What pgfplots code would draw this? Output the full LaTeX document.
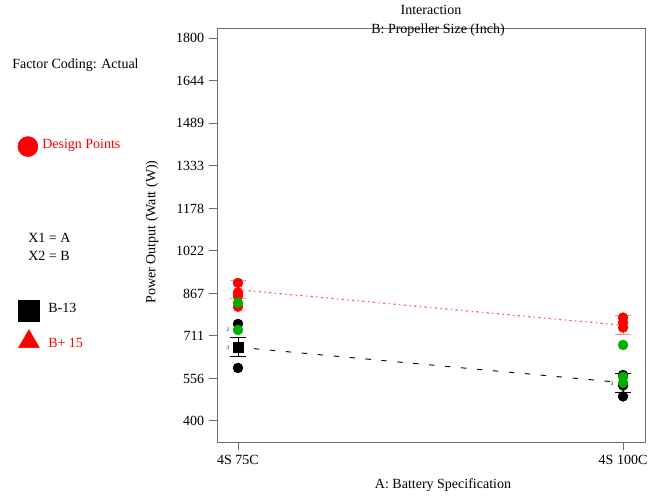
\documentclass[border=0pt]{standalone}
\usepackage{pgfplots}
\pgfplotsset{compat=1.18}
\usepackage{fontspec}
\setmainfont{Liberation Serif}
\definecolor{dgreen}{RGB}{0,175,0}
\definecolor{axgray}{RGB}{110,110,110}
\begin{document}
\fontsize{10.5}{12}\selectfont
\begin{tikzpicture}
\path[use as bounding box] (-162.75pt,-40.5pt) rectangle (336pt,331.5pt);
\begin{axis}[
  at={(0pt,0pt)}, anchor=south west,
  scale only axis, width=321pt, height=310.5pt,
  xmin=-0.0545, xmax=1.057, ymin=323, ymax=1838,
  xtick={0,1}, xticklabels={4S 75C,4S 100C},
  ytick={400,555.56,711.11,866.67,1022.22,1177.78,1333.33,1488.89,1644.44,1800},
  yticklabels={400,556,711,867,1022,1178,1333,1489,1644,1800},
  tick align=outside, major tick length=6pt,
  xtick pos=bottom, ytick pos=left,
  axis line style={axgray, line width=0.7pt},
  tick style={axgray, line width=0.7pt},
  /pgf/number format/assume math mode=true,
  ticklabel style={font=\fontsize{10.5}{12}\selectfont},
  clip=false,
]
% interaction lines
\addplot[red!60, line width=0.9pt, dash pattern=on 1.8pt off 2.5pt on 1pt off 2.5pt] coordinates {(0,880) (1,750)};
\addplot[black, line width=0.7pt, dash pattern=on 4pt off 8pt] coordinates {(0,670) (1,540)};
% LSD bars
\addplot[red!45, line width=0.6pt, draw=none, mark=none, error bars/.cd, y dir=both, y explicit,
  error bar style={red!45, line width=0.6pt},
  error mark options={red!45, rotate=90, mark size=6pt, line width=0.6pt}]
  coordinates {(0,880) +- (0,33) (1,750) +- (0,35)};
\addplot[black, line width=0.6pt, draw=none, mark=none, error bars/.cd, y dir=both, y explicit,
  error mark options={black, rotate=90, mark size=6pt, line width=0.6pt}]
  coordinates {(0,670) +- (0,35) (1,540) +- (0,35)};
% design points
\addplot[only marks, mark=*, mark size=3.7pt, black, mark options={fill=black}] coordinates {
  (0,755) (0,594) (1,568) (1,530) (1,490)};
\addplot[only marks, mark=*, mark size=3.7pt, red, mark options={fill=red}] coordinates {
  (0,905) (0,870) (0,858) (0,818) (1,778) (1,760) (1,742)};
\addplot[only marks, mark=*, mark size=3.7pt, dgreen, mark options={fill=dgreen}] coordinates {
  (0,833) (0,733) (1,678) (1,561) (1,540)};
% means
\addplot[only marks, mark=square*, mark size=3.6pt, black] coordinates {(0,670)};
% legend symbols
\addplot[only marks, mark=*, mark size=7.5pt, red] coordinates {(-0.5455,1404)};
\addplot[only marks, mark=square*, mark size=7.8pt, black] coordinates {(-0.5429,803)};
\addplot[only marks, mark=triangle*, mark size=9pt, red] coordinates {(-0.5429,690)};
% small count labels
\node[font=\fontsize{4}{4}\selectfont] at (axis cs:-0.026,733) {2};
\node[font=\fontsize{4}{4}\selectfont] at (axis cs:-0.026,667) {3};
\node[font=\fontsize{4}{4}\selectfont] at (axis cs:0.972,537) {3};
\end{axis}
\node at (160.5pt,324pt) {Interaction};
\node at (165.75pt,309pt) {B: Propeller Size (Inch)};
\node[anchor=west, inner sep=0pt] at (-153.75pt,282.75pt) {Factor Coding: Actual};
\node[anchor=west, inner sep=0pt, text=red] at (-131.25pt,222.75pt) {Design Points};
\node[anchor=west, inner sep=0pt] at (-141.75pt,153pt) {X1 = A};
\node[anchor=west, inner sep=0pt] at (-141.75pt,139.5pt) {X2 = B};
\node[anchor=west, inner sep=0pt] at (-126.75pt,100.5pt) {B-13};
\node[anchor=west, inner sep=0pt, text=red] at (-126.75pt,74.25pt) {B+ 15};
\node[rotate=90] at (-48.75pt,157.5pt) {Power Output (Watt (W))};
\node at (169.5pt,-32.25pt) {A: Battery Specification};
\end{tikzpicture}
\end{document}
